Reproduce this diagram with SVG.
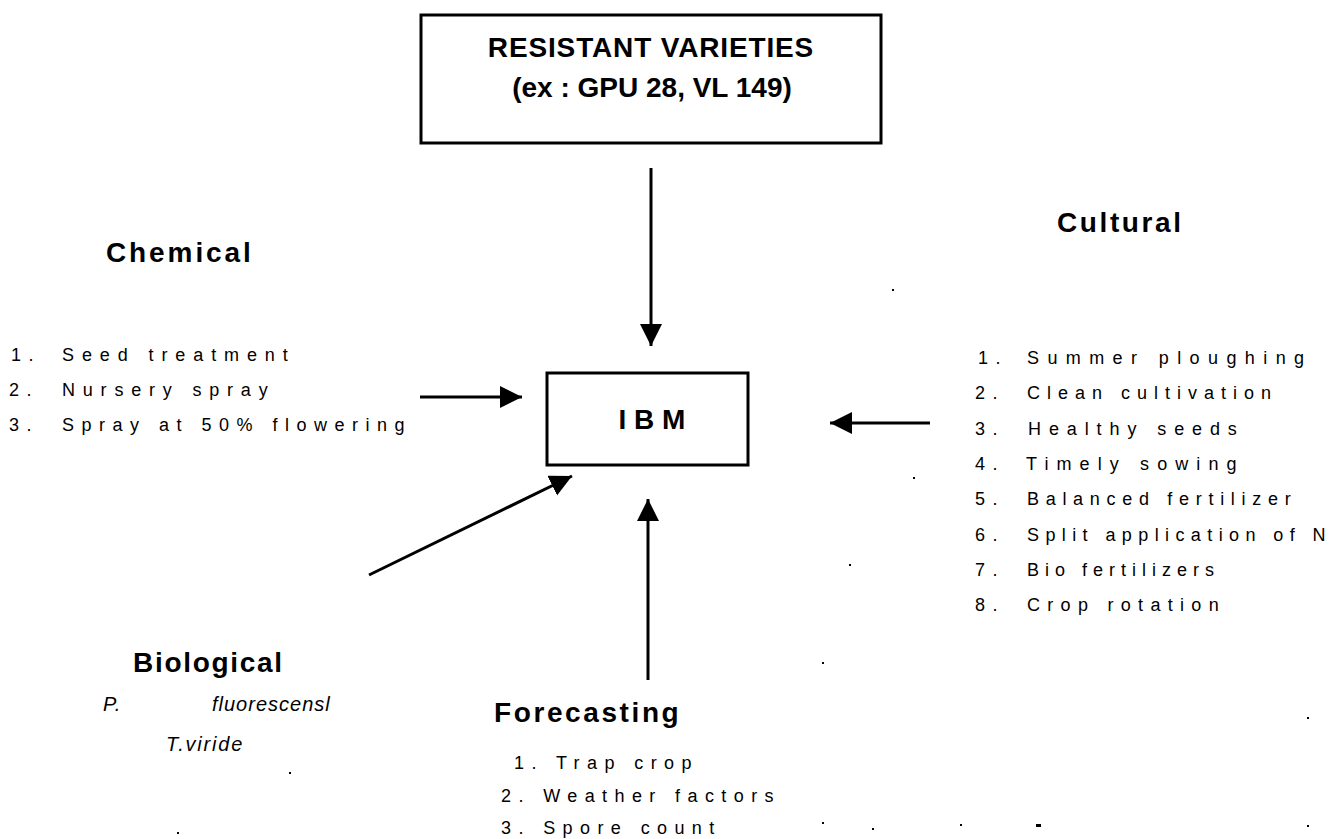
<svg xmlns="http://www.w3.org/2000/svg" width="1333" height="839" viewBox="0 0 1333 839">
<defs>
<style>
.box{fill:#fff;stroke:#000;stroke-width:3}
.h{font-family:"Liberation Sans",Arial,sans-serif;font-weight:bold;font-size:28px;fill:#000;letter-spacing:2.6px}
.t{font-family:"Liberation Sans",Arial,sans-serif;font-weight:bold;font-size:28px;fill:#000}
.l{font-family:"Liberation Sans",Arial,sans-serif;font-size:18px;fill:#000;letter-spacing:7.4px}
.i{font-family:"Liberation Sans",Arial,sans-serif;font-style:italic;font-size:20px;fill:#000;letter-spacing:1px}
.c{stroke:#000;stroke-width:3;fill:none}
.dot{fill:#000}
</style>
<marker id="ah" markerUnits="userSpaceOnUse" markerWidth="24" markerHeight="24" refX="22" refY="11" orient="auto">
<path d="M0,0 L22,11 L0,22 Z" fill="#000"/>
</marker>
</defs>
<rect width="1333" height="839" fill="#fff"/>

<g id="resistant">
<rect class="box" x="421" y="15" width="460" height="128"/>
<text class="t" x="651" y="57" text-anchor="middle" letter-spacing="0.85">RESISTANT VARIETIES</text>
<text class="t" x="652" y="97" text-anchor="middle">(ex : GPU 28, VL 149)</text>
</g>

<g id="ibm">
<rect class="box" x="547" y="373" width="201" height="92"/>
<text class="t" x="652" y="429" text-anchor="middle" font-size="26">I B M</text>
</g>

<g id="chemical">
<text class="h" x="106" y="262" style="letter-spacing:2.9px">Chemical</text>
<text class="l" y="361"><tspan x="11">1.</tspan><tspan x="62" letter-spacing="7.9">Seed treatment</tspan></text>
<text class="l" y="396"><tspan x="9">2.</tspan><tspan x="62" letter-spacing="7.8">Nursery spray</tspan></text>
<text class="l" y="431"><tspan x="9">3.</tspan><tspan x="62" letter-spacing="7.5">Spray at 50% flowering</tspan></text>
</g>

<g id="cultural">
<text class="h" x="1057" y="232">Cultural</text>
<text class="l" y="364"><tspan x="978">1.</tspan><tspan x="1027" letter-spacing="8.4">Summer ploughing</tspan></text>
<text class="l" y="399.3"><tspan x="975">2.</tspan><tspan x="1027" letter-spacing="7.0">Clean cultivation</tspan></text>
<text class="l" y="434.6"><tspan x="975">3.</tspan><tspan x="1028" letter-spacing="7.9">Healthy seeds</tspan></text>
<text class="l" y="469.9"><tspan x="975">4.</tspan><tspan x="1026" letter-spacing="8.1">Timely sowing</tspan></text>
<text class="l" y="505.2"><tspan x="975">5.</tspan><tspan x="1027" letter-spacing="6.7">Balanced fertilizer</tspan></text>
<text class="l" y="540.5"><tspan x="975">6.</tspan><tspan x="1027" letter-spacing="6.4">Split application of N</tspan></text>
<text class="l" y="575.8"><tspan x="975">7.</tspan><tspan x="1027" letter-spacing="6.0">Bio fertilizers</tspan></text>
<text class="l" y="611.1"><tspan x="975">8.</tspan><tspan x="1027" letter-spacing="7.3">Crop rotation</tspan></text>
</g>

<g id="biological">
<text class="h" x="133" y="672" style="letter-spacing:1.7px">Biological</text>
<text class="i" y="711"><tspan x="103">P.</tspan><tspan x="212">fluorescensl</tspan></text>
<text class="i" x="166" y="751" style="letter-spacing:1.8px">T.viride</text>
</g>

<g id="forecasting">
<text class="h" x="494" y="722">Forecasting</text>
<text class="l" x="514" y="769">1. Trap crop</text>
<text class="l" x="501" y="802">2. Weather factors</text>
<text class="l" x="501" y="834">3. Spore count</text>
</g>

<g id="connectors">
<line class="c" x1="651" y1="168" x2="651" y2="346" marker-end="url(#ah)"/>
<line class="c" x1="420" y1="397" x2="522" y2="397" marker-end="url(#ah)"/>
<line class="c" x1="930" y1="423" x2="830" y2="423" marker-end="url(#ah)"/>
<line class="c" x1="369" y1="575" x2="572" y2="476" marker-end="url(#ah)"/>
<line class="c" x1="648" y1="680" x2="648" y2="499" marker-end="url(#ah)"/>
</g>

<g id="specks">
<rect class="dot" x="892" y="289" width="2" height="2"/>
<rect class="dot" x="913" y="477" width="2" height="2"/>
<rect class="dot" x="849" y="564" width="2" height="2"/>
<rect class="dot" x="822" y="662" width="2" height="2"/>
<rect class="dot" x="1307" y="717" width="2" height="2"/>
<rect class="dot" x="289" y="772" width="2" height="2"/>
<rect class="dot" x="177" y="832" width="2" height="2"/>
<rect class="dot" x="822" y="822" width="2" height="2"/>
<rect class="dot" x="872" y="828" width="2" height="2"/>
<rect class="dot" x="960" y="824" width="2" height="2"/>
<rect class="dot" x="1036" y="824" width="5" height="3"/>
<rect class="dot" x="1307" y="825" width="2" height="2"/>
</g>
</svg>
